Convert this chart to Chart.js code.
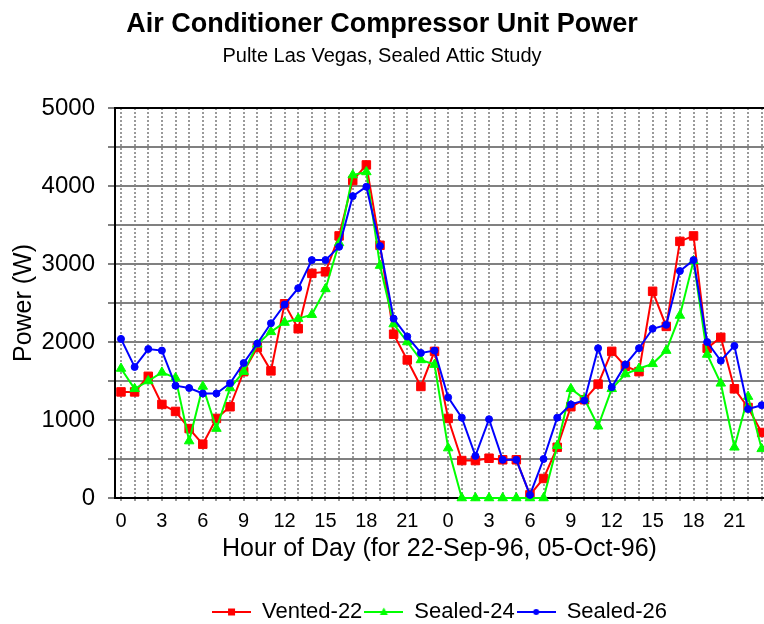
<!DOCTYPE html>
<html>
<head>
<meta charset="utf-8">
<title>Air Conditioner Compressor Unit Power</title>
<script src="https://cdn.jsdelivr.net/npm/chart.js@4/dist/chart.umd.min.js"></script>
<style>
  html, body { margin: 0; padding: 0; background: #fff; }
  #chart { display: block; }
</style>
</head>
<body>
<canvas id="chart" width="764" height="624"></canvas>
<script>
const FONT = "'Liberation Sans', Arial, sans-serif";

// hour of day for each hourly reading (22-Sep-96 then 05-Oct-96)
const hourOfDay = [
  0, 1, 2, 3, 4, 5, 6, 7, 8, 9, 10, 11, 12, 13, 14, 15, 16, 17, 18, 19, 20, 21, 22, 23,
  0, 1, 2, 3, 4, 5, 6, 7, 8, 9, 10, 11, 12, 13, 14, 15, 16, 17, 18, 19, 20, 21, 22, 23
];

// compressor power (W)
const vented22 = [
  1360, 1360, 1560, 1200, 1110, 890, 690, 1020, 1170, 1620, 1930, 1630,
  2490, 2170, 2880, 2900, 3360, 4070, 4270, 3240, 2100, 1770, 1430, 1880,
  1020, 480, 480, 510, 490, 490, 40, 250, 650, 1170, 1260, 1460,
  1880, 1690, 1620, 2650, 2200, 3290, 3360, 1920, 2060, 1400, 1160, 840
];
const sealed24 = [
  1660, 1400, 1500, 1610, 1540, 730, 1430, 890, 1410, 1620, 1970, 2130,
  2250, 2300, 2350, 2680, 3270, 4140, 4180, 2980, 2230, 2000, 1770, 1710,
  640, 0, 0, 0, 0, 0, 0, 0, 670, 1400, 1270, 920,
  1400, 1590, 1660, 1720, 1890, 2340, 3040, 1840, 1470, 650, 1300, 630
];
const sealed26 = [
  2040, 1680, 1910, 1890, 1440, 1410, 1340, 1340, 1470, 1730, 1980, 2240,
  2480, 2690, 3050, 3050, 3220, 3870, 3990, 3230, 2300, 2070, 1860, 1890,
  1290, 1030, 540, 1010, 490, 490, 40, 500, 1030, 1200, 1250, 1920,
  1420, 1710, 1920, 2170, 2220, 2910, 3050, 2000, 1760, 1950, 1140, 1190
];

const seriesNames = ["Vented-22", "Sealed-24", "Sealed-26"];
const seriesColors = ["#ff0000", "#00ff00", "#0000ff"];
const seriesMarkers = ["rect", "triangle", "circle"];

function toPoints(values) {
  return values.map((v, i) => ({ x: i, y: v }));
}

// little line + marker picture for the legend
function legendIcon(color, marker) {
  const c = document.createElement("canvas");
  c.width = 39;
  c.height = 12;
  const g = c.getContext("2d");
  g.strokeStyle = color;
  g.fillStyle = color;
  g.lineWidth = 2;
  g.beginPath();
  g.moveTo(0, 6);
  g.lineTo(39, 6);
  g.stroke();
  g.beginPath();
  if (marker === "rect") {
    g.rect(16, 2.5, 7, 7);
  } else if (marker === "triangle") {
    g.moveTo(19.5, 1.5);
    g.lineTo(23.5, 9);
    g.lineTo(15.5, 9);
    g.closePath();
  } else {
    g.arc(19.5, 6, 3, 0, Math.PI * 2);
  }
  g.fill();
  return c;
}

const allSeries = [vented22, sealed24, sealed26];
const datasets = allSeries.map((values, i) => ({
  label: seriesNames[i],
  data: toPoints(values),
  borderColor: seriesColors[i],
  backgroundColor: seriesColors[i],
  pointBackgroundColor: seriesColors[i],
  pointBorderColor: seriesColors[i],
  pointStyle: seriesMarkers[i],
  pointRadius: [6, 5.5, 3.5][i],
  pointBorderWidth: 1,
  borderWidth: 2,
  tension: 0,
  clip: false,
  order: 3 - i
}));

new Chart(document.getElementById("chart"), {
  type: "line",
  data: { datasets },
  options: {
    responsive: false,
    animation: false,
    devicePixelRatio: 1,
    layout: { autoPadding: false, padding: { left: 0, right: 0, top: 0, bottom: -9 } },
    plugins: {
      tooltip: { enabled: false },
      title: {
        display: true,
        text: "Air Conditioner Compressor Unit Power",
        color: "#000",
        font: { family: FONT, size: 27, weight: "bold" },
        padding: { top: 8, bottom: 0 }
      },
      subtitle: {
        display: true,
        text: "Pulte Las Vegas, Sealed Attic Study",
        color: "#000",
        font: { family: FONT, size: 20 },
        padding: { top: 4.3, bottom: 39.3 }
      },
      legend: {
        position: "bottom",
        fullSize: false,
        labels: {
          usePointStyle: true,
          pointStyleWidth: 39,
          padding: 2,
          color: "#000",
          font: { family: FONT, size: 22 },
          generateLabels: () => seriesNames.map((name, i) => ({
            text: name,
            pointStyle: legendIcon(seriesColors[i], seriesMarkers[i]),
            fillStyle: seriesColors[i],
            strokeStyle: seriesColors[i],
            lineWidth: 0,
            hidden: false,
            datasetIndex: i
          }))
        }
      }
    },
    scales: {
      x: {
        type: "linear",
        min: -0.44,
        max: 47.17,
        afterFit: (scale) => {
          scale.height = 101;
          scale.paddingLeft = 0;
          scale.paddingRight = 0;
        },
        ticks: {
          stepSize: 1,
          includeBounds: false,
          autoSkip: false,
          maxRotation: 0,
          padding: 6,
          color: "#000",
          font: { family: FONT, size: 20 },
          callback: (value) => (value % 3 === 0 ? String(hourOfDay[value]) : "")
        },
        grid: {
          color: "#9a9a9a",
          lineWidth: 2,
          tickLength: 5,
          tickColor: "#9a9a9a",
          tickWidth: 2,
          tickBorderDash: [2, 2]
        },
        border: { color: "#000", width: 2, dash: [2, 2] },
        title: {
          display: true,
          text: "Hour of Day (for 22-Sep-96, 05-Oct-96)",
          color: "#000",
          font: { family: FONT, size: 25 },
          padding: { top: 0, bottom: 35 }
        }
      },
      y: {
        min: 0,
        max: 5000,
        afterFit: (scale) => {
          scale.width = 115;
          scale.paddingTop = 0;
          scale.paddingBottom = 0;
        },
        ticks: {
          stepSize: 500,
          padding: 13,
          color: "#000",
          font: { family: FONT, size: 24 },
          callback: (value) => (value % 1000 === 0 ? value : "")
        },
        grid: {
          color: (ctx) => (ctx.tick && (ctx.tick.value === 5000 || ctx.tick.value === 0) ? "#000" : "#808080"),
          lineWidth: 2,
          tickColor: "#808080",
          tickLength: 7,
          tickWidth: 2
        },
        border: { color: "#000", width: 2 },
        title: {
          display: true,
          text: "Power (W)",
          color: "#000",
          font: { family: FONT, size: 25 },
          padding: { top: 9, bottom: 0 }
        }
      }
    }
  }
});
</script>
</body>
</html>
